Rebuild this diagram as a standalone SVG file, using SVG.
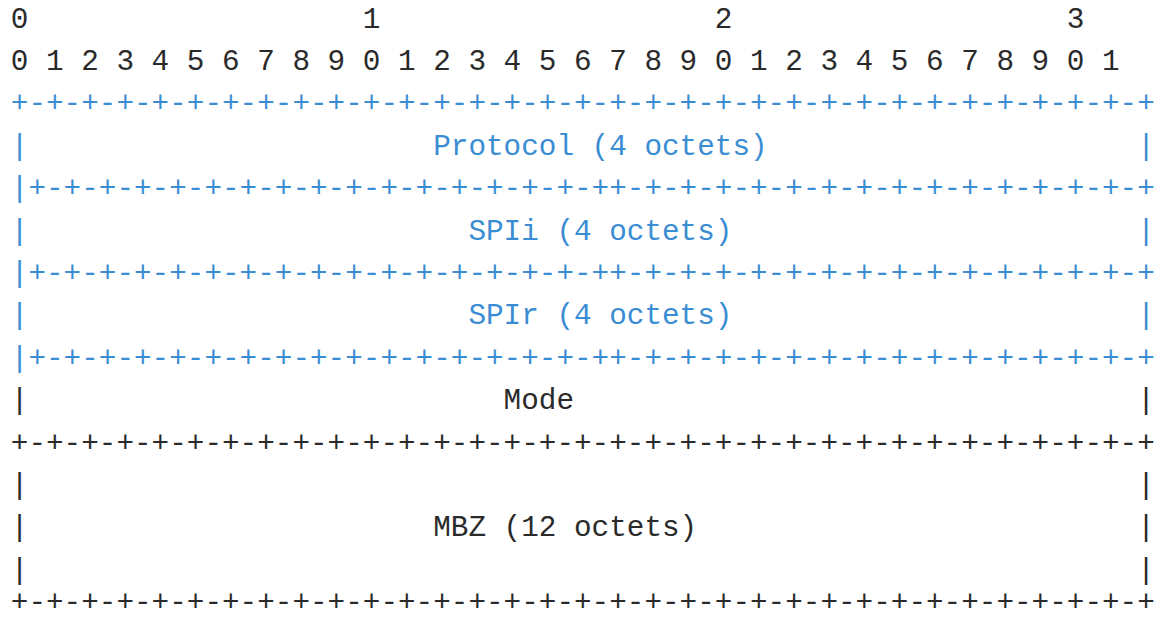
<svg xmlns="http://www.w3.org/2000/svg" width="1155" height="620" viewBox="0 0 1155 620">
<style>
text{font-family:"Liberation Mono","Courier New",monospace;font-size:29.33px}
.b{fill:#3a8dd2}
.k{fill:#2a2a2a}
</style>
<rect width="1155" height="620" fill="#ffffff"/>
<g id="ruler">
<text class="k" x="10.8" y="27.5">0</text>
<text class="k" x="362.8" y="27.5">1</text>
<text class="k" x="714.8" y="27.5">2</text>
<text class="k" x="1066.8" y="27.5">3</text>
<text class="k" x="10.8" y="69.9" textLength="1108.8" lengthAdjust="spacing">0 1 2 3 4 5 6 7 8 9 0 1 2 3 4 5 6 7 8 9 0 1 2 3 4 5 6 7 8 9 0 1</text>
</g>
<g id="protocol">
<text class="b" x="10.8" y="112.3" textLength="1144" lengthAdjust="spacing">+-+-+-+-+-+-+-+-+-+-+-+-+-+-+-+-+-+-+-+-+-+-+-+-+-+-+-+-+-+-+-+-+</text>
<text class="b" x="10.8" y="154.7">|</text>
<text class="b" x="433.2" y="154.7">Protocol (4 octets)</text>
<text class="b" x="1137.2" y="154.7">|</text>
</g>
<g id="spii">
<text class="b" x="10.8" y="197.1" textLength="1144" lengthAdjust="spacing">|+-+-+-+-+-+-+-+-+-+-+-+-+-+-+-+-++-+-+-+-+-+-+-+-+-+-+-+-+-+-+-+</text>
<text class="b" x="10.8" y="239.5">|</text>
<text class="b" x="468.4" y="239.5">SPIi (4 octets)</text>
<text class="b" x="1137.2" y="239.5">|</text>
</g>
<g id="spir">
<text class="b" x="10.8" y="281.9" textLength="1144" lengthAdjust="spacing">|+-+-+-+-+-+-+-+-+-+-+-+-+-+-+-+-++-+-+-+-+-+-+-+-+-+-+-+-+-+-+-+</text>
<text class="b" x="10.8" y="324.3">|</text>
<text class="b" x="468.4" y="324.3">SPIr (4 octets)</text>
<text class="b" x="1137.2" y="324.3">|</text>
<text class="b" x="10.8" y="366.7" textLength="1144" lengthAdjust="spacing">|+-+-+-+-+-+-+-+-+-+-+-+-+-+-+-+-++-+-+-+-+-+-+-+-+-+-+-+-+-+-+-+</text>
</g>
<g id="mode">
<text class="k" x="10.8" y="409.1">|</text>
<text class="k" x="503.6" y="409.1">Mode</text>
<text class="k" x="1137.2" y="409.1">|</text>
<text class="k" x="10.8" y="451.5" textLength="1144" lengthAdjust="spacing">+-+-+-+-+-+-+-+-+-+-+-+-+-+-+-+-+-+-+-+-+-+-+-+-+-+-+-+-+-+-+-+-+</text>
</g>
<g id="mbz">
<text class="k" x="10.8" y="493.9">|</text>
<text class="k" x="1137.2" y="493.9">|</text>
<text class="k" x="10.8" y="536.3">|</text>
<text class="k" x="433.2" y="536.3">MBZ (12 octets)</text>
<text class="k" x="1137.2" y="536.3">|</text>
<text class="k" x="10.8" y="578.7">|</text>
<text class="k" x="1137.2" y="578.7">|</text>
<text class="k" x="10.8" y="610.5" textLength="1144" lengthAdjust="spacing">+-+-+-+-+-+-+-+-+-+-+-+-+-+-+-+-+-+-+-+-+-+-+-+-+-+-+-+-+-+-+-+-+</text>
</g>
<g id="connectors"></g>
</svg>
